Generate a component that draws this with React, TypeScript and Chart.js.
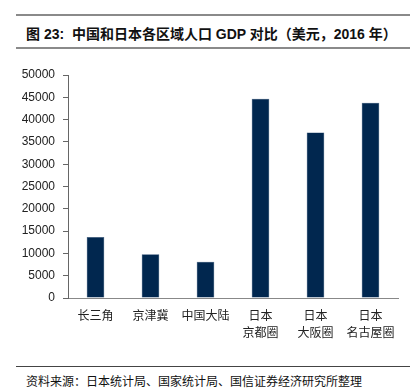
import React, { useEffect, useRef } from "react";
import { Chart, registerables } from "chart.js";

Chart.register(...registerables);

const categories: (string | string[])[] = [
  "长三角",
  "京津冀",
  "中国大陆",
  ["日本", "京都圈"],
  ["日本", "大阪圈"],
  ["日本", "名古屋圈"],
];
const gdpValues = [13700, 9800, 8100, 44700, 37100, 43800];
const yMin = 0;
const yMax = 50000;
const yStep = 5000;

const titleText = "图 23:  中国和日本各区域人口 GDP 对比（美元，2016 年）";
const sourceText = "资料来源：日本统计局、国家统计局、国信证券经济研究所整理";

export default function App() {
  const canvasRef = useRef<HTMLCanvasElement | null>(null);

  useEffect(() => {
    document.body.style.margin = "0";
    const canvas = canvasRef.current;
    if (!canvas) return;
    const chart = new Chart(canvas, {
      type: "bar",
      data: {
        labels: categories,
        datasets: [
          {
            data: gdpValues,
            backgroundColor: "#01274f",
            borderColor: "#2a4a72",
            borderWidth: 0.5,
            categoryPercentage: 1,
            barPercentage: 0.32,
          },
        ],
      },
      options: {
        responsive: false,
        animation: false,
        devicePixelRatio: 1,
        layout: { padding: { top: 20, right: 12, left: 0, bottom: 0 } },
        plugins: {
          legend: { display: false },
          tooltip: { enabled: false },
          title: { display: false },
        },
        scales: {
          x: {
            grid: { display: true, drawOnChartArea: false, drawTicks: false, color: "#888" },
            border: { display: true, color: "#888", width: 1 },
            ticks: {
              padding: 9,
              color: "#222",
              maxRotation: 0,
              autoSkip: false,
              font: { family: "'Noto Sans CJK SC', sans-serif", size: 12, lineHeight: 1.4 },
            },
            afterFit: (scale: any) => {
              scale.height = 57;
            },
          },
          y: {
            min: yMin,
            max: yMax,
            grid: {
              display: true,
              drawOnChartArea: false,
              drawTicks: true,
              tickLength: 5,
              color: "#666",
            },
            border: { display: true, color: "#666", width: 1 },
            ticks: {
              stepSize: yStep,
              padding: 8,
              color: "#222",
              font: { family: "'Liberation Sans', Arial, sans-serif", size: 12 },
              callback: (value: any) => String(value),
            },
            afterFit: (scale: any) => {
              scale.width = 68;
            },
          },
        },
      },
    });
    return () => chart.destroy();
  }, []);

  return (
    <div
      style={{
        position: "absolute",
        left: 0,
        top: 0,
        width: 410,
        height: 390,
        background: "#fff",
        overflow: "hidden",
      }}
    >
      <div
        style={{
          position: "absolute",
          left: 16,
          right: 0,
          top: 14,
          height: 35,
          boxSizing: "border-box",
          borderTop: "2px solid #8a8a8a",
          borderBottom: "2px solid #8a8a8a",
          paddingLeft: 10,
          paddingTop: 2,
          display: "flex",
          alignItems: "center",
          fontFamily: "'Liberation Sans', 'Noto Sans CJK SC', sans-serif",
          fontWeight: 700,
          fontSize: 14,
          color: "#111",
          whiteSpace: "pre",
        }}
      >
        {titleText}
      </div>
      <canvas
        ref={canvasRef}
        width={410}
        height={300}
        style={{ position: "absolute", left: 0, top: 55, width: 410, height: 300 }}
      />
      <div
        style={{
          position: "absolute",
          left: 16,
          right: 0,
          top: 366,
          height: 24,
          boxSizing: "border-box",
          borderTop: "1.5px solid #444",
          paddingLeft: 10,
          paddingTop: 6,
          fontFamily: "'Noto Sans CJK SC', sans-serif",
          fontSize: 12,
          lineHeight: "16px",
          color: "#111",
          whiteSpace: "pre",
        }}
      >
        {sourceText}
      </div>
    </div>
  );
}
